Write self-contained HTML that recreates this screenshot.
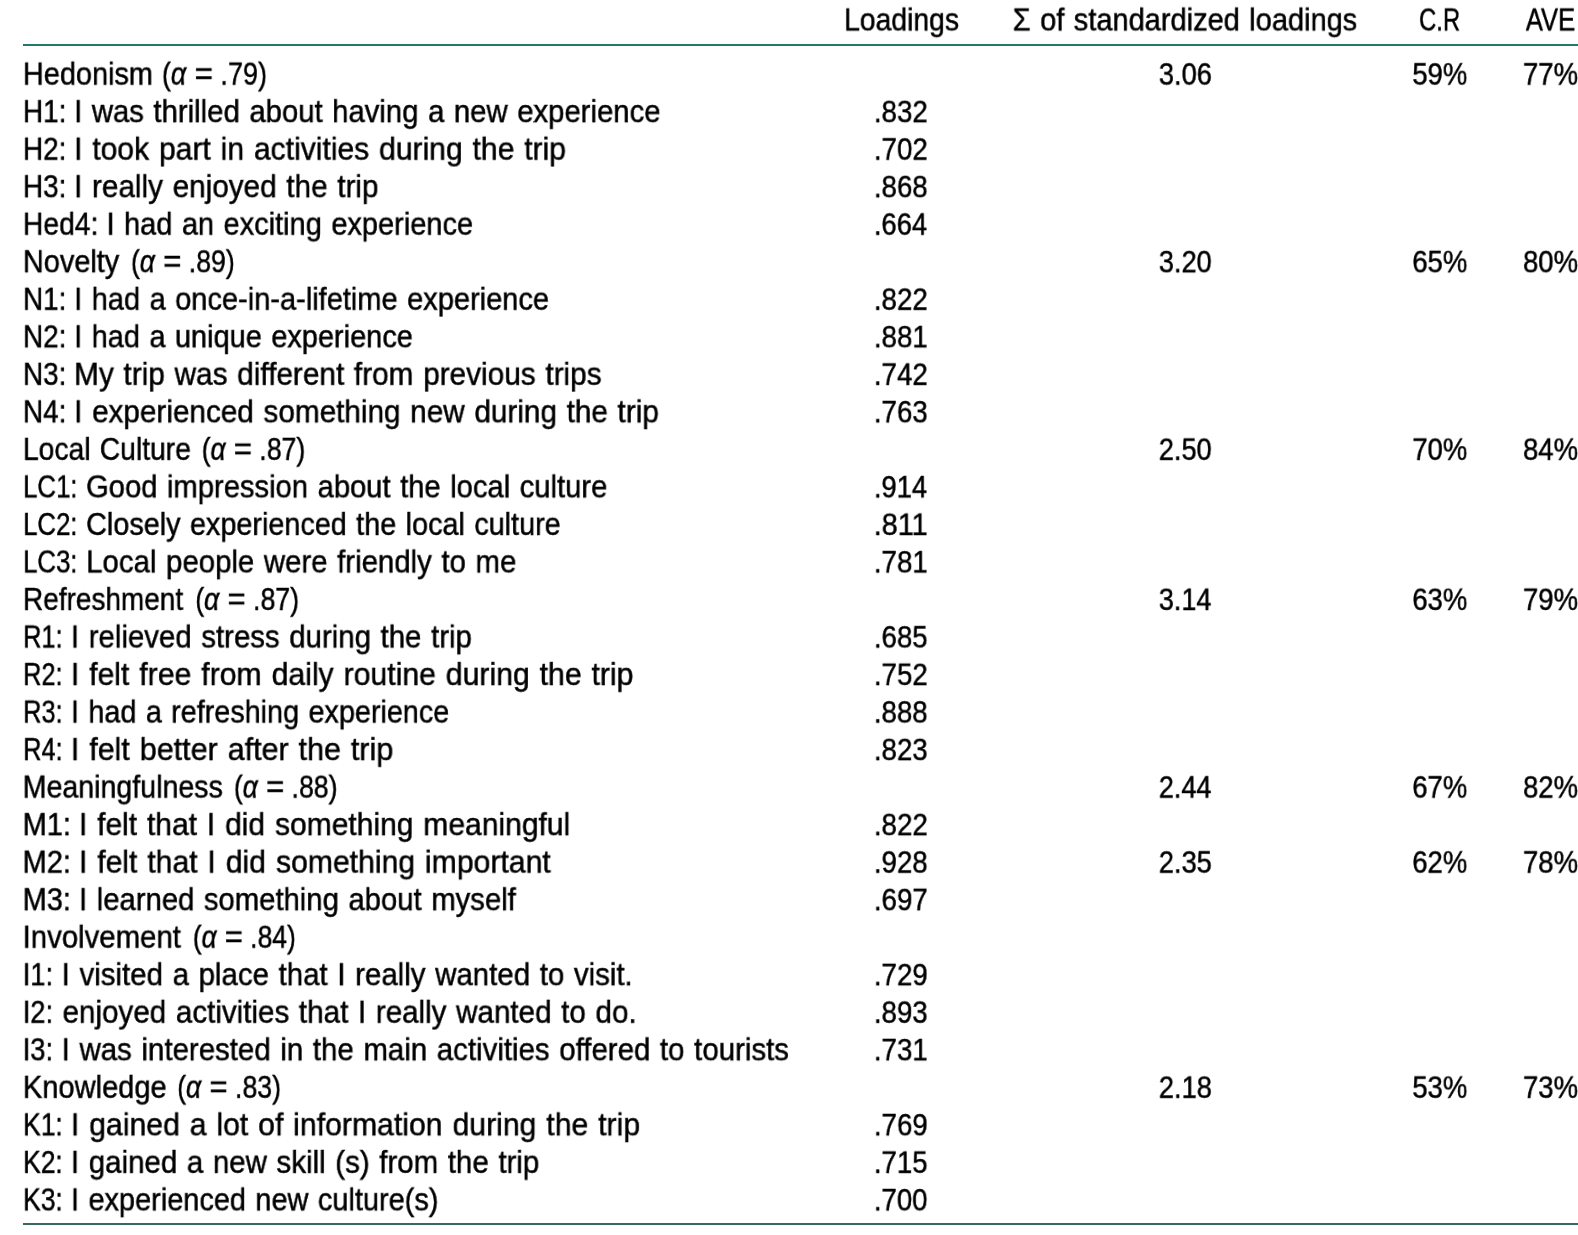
<!DOCTYPE html>
<html lang="en"><head><meta charset="utf-8"><title>Table</title>
<style>
html,body{margin:0;padding:0;background:#fff;}
body{width:1578px;height:1235px;position:relative;overflow:hidden;font-family:"Liberation Sans",sans-serif;font-size:32.6px;line-height:1;color:#000;}
.t{position:absolute;left:0;top:0;white-space:pre;transform-origin:0 0;will-change:transform;word-spacing:1.6px;-webkit-text-stroke:0.5px #000;}
.eq{display:inline-block;transform:scaleX(1.17);margin:0 -0.26px 0 1.34px;}
.r{position:absolute;left:23px;width:1555px;height:2px;}
</style></head><body>
<div class="r" style="top:44px;background:#24786a"></div>
<div class="r" style="top:1223px;background:#346a62"></div>
<div class="row head">
<span class="t" id="h1" style="transform:translate(844.14px,4.66px) scale(0.8687,0.957)">Loadings</span>
<span class="t" id="h2" style="transform:translate(1012.75px,4.66px) scale(0.8898,0.957)">Σ of standardized loadings</span>
<span class="t" id="h3" style="transform:translate(1419.07px,4.66px) scale(0.7323,0.957)">C.R</span>
<span class="t" id="h4" style="transform:translate(1525.80px,4.66px) scale(0.7874,0.957)">AVE</span>
</div>
<div class="row">
<span class="t" id="a0w" style="transform:translate(22.95px,58.79px) scale(0.8861,0.957)">Hedonism </span>
<span class="t" id="a0p" style="transform:translate(161.90px,58.79px) scale(0.8271,0.957)">(<i>α</i> <span class="eq">=</span> .79)</span>
<span class="t" id="s0" style="transform:translate(1158.84px,59.48px) scale(0.8374,0.932)">3.06</span>
<span class="t" id="c0" style="transform:translate(1412.36px,59.48px) scale(0.8422,0.932)">59%</span>
<span class="t" id="v0" style="transform:translate(1522.93px,59.48px) scale(0.8466,0.932)">77%</span>
</div>
<div class="row">
<span class="t" id="a1x" style="transform:translate(23.01px,96.32px) scale(0.8559,0.957)">H1: </span>
<span class="t" id="a1r" style="transform:translate(74.12px,96.32px) scale(0.8989,0.957)">I was thrilled about having a new experience</span>
<span class="t" id="l1" style="transform:translate(873.86px,97.00px) scale(0.8505,0.932)">.832</span>
</div>
<div class="row">
<span class="t" id="a2x" style="transform:translate(23.03px,133.85px) scale(0.8550,0.957)">H2: </span>
<span class="t" id="a2r" style="transform:translate(74.04px,133.85px) scale(0.9235,0.957)">I took part in activities during the trip</span>
<span class="t" id="l2" style="transform:translate(873.86px,134.53px) scale(0.8504,0.932)">.702</span>
</div>
<div class="row">
<span class="t" id="a3x" style="transform:translate(23.00px,171.37px) scale(0.8553,0.957)">H3: </span>
<span class="t" id="a3r" style="transform:translate(74.05px,171.37px) scale(0.9110,0.957)">I really enjoyed the trip</span>
<span class="t" id="l3" style="transform:translate(873.85px,172.06px) scale(0.8491,0.932)">.868</span>
</div>
<div class="row">
<span class="t" id="a4x" style="transform:translate(22.98px,208.90px) scale(0.8664,0.957)">Hed4: </span>
<span class="t" id="a4r" style="transform:translate(106.51px,208.90px) scale(0.8895,0.957)">I had an exciting experience</span>
<span class="t" id="l4" style="transform:translate(873.87px,209.58px) scale(0.8391,0.932)">.664</span>
</div>
<div class="row">
<span class="t" id="a5w" style="transform:translate(22.93px,246.42px) scale(0.8866,0.957)">Novelty </span>
<span class="t" id="a5p" style="transform:translate(130.95px,246.42px) scale(0.8166,0.957)">(<i>α</i> <span class="eq">=</span> .89)</span>
<span class="t" id="s5" style="transform:translate(1158.83px,247.11px) scale(0.8340,0.932)">3.20</span>
<span class="t" id="c5" style="transform:translate(1412.33px,247.11px) scale(0.8434,0.932)">65%</span>
<span class="t" id="v5" style="transform:translate(1523.02px,247.11px) scale(0.8448,0.932)">80%</span>
</div>
<div class="row">
<span class="t" id="a6x" style="transform:translate(23.02px,283.95px) scale(0.8549,0.957)">N1: </span>
<span class="t" id="a6r" style="transform:translate(74.12px,283.95px) scale(0.8904,0.957)">I had a once-in-a-lifetime experience</span>
<span class="t" id="l6" style="transform:translate(873.80px,284.63px) scale(0.8516,0.932)">.822</span>
</div>
<div class="row">
<span class="t" id="a7x" style="transform:translate(23.02px,321.48px) scale(0.8557,0.957)">N2: </span>
<span class="t" id="a7r" style="transform:translate(74.14px,321.48px) scale(0.8882,0.957)">I had a unique experience</span>
<span class="t" id="l7" style="transform:translate(873.86px,322.16px) scale(0.8500,0.932)">.881</span>
</div>
<div class="row">
<span class="t" id="a8x" style="transform:translate(23.02px,359.00px) scale(0.8551,0.957)">N3: </span>
<span class="t" id="a8r" style="transform:translate(74.06px,359.00px) scale(0.9135,0.957)">My trip was different from previous trips</span>
<span class="t" id="l8" style="transform:translate(873.80px,359.69px) scale(0.8516,0.932)">.742</span>
</div>
<div class="row">
<span class="t" id="a9x" style="transform:translate(22.98px,396.53px) scale(0.8562,0.957)">N4: </span>
<span class="t" id="a9r" style="transform:translate(74.08px,396.53px) scale(0.9114,0.957)">I experienced something new during the trip</span>
<span class="t" id="l9" style="transform:translate(873.83px,397.21px) scale(0.8500,0.932)">.763</span>
</div>
<div class="row">
<span class="t" id="a10w" style="transform:translate(22.98px,434.05px) scale(0.8673,0.957)">Local Culture </span>
<span class="t" id="a10p" style="transform:translate(201.67px,434.05px) scale(0.8151,0.957)">(<i>α</i> <span class="eq">=</span> .87)</span>
<span class="t" id="s10" style="transform:translate(1158.81px,434.74px) scale(0.8341,0.932)">2.50</span>
<span class="t" id="c10" style="transform:translate(1412.35px,434.74px) scale(0.8428,0.932)">70%</span>
<span class="t" id="v10" style="transform:translate(1523.01px,434.74px) scale(0.8451,0.932)">84%</span>
</div>
<div class="row">
<span class="t" id="a11x" style="transform:translate(23.12px,471.58px) scale(0.7904,0.957)">LC1: </span>
<span class="t" id="a11r" style="transform:translate(86.10px,471.58px) scale(0.8954,0.957)">Good impression about the local culture</span>
<span class="t" id="l11" style="transform:translate(873.88px,472.26px) scale(0.8388,0.932)">.914</span>
</div>
<div class="row">
<span class="t" id="a12x" style="transform:translate(23.14px,509.11px) scale(0.7897,0.957)">LC2: </span>
<span class="t" id="a12r" style="transform:translate(86.11px,509.11px) scale(0.8838,0.957)">Closely experienced the local culture</span>
<span class="t" id="l12" style="transform:translate(873.71px,509.79px) scale(0.8852,0.932)">.811</span>
</div>
<div class="row">
<span class="t" id="a13x" style="transform:translate(23.14px,546.63px) scale(0.7895,0.957)">LC3: </span>
<span class="t" id="a13r" style="transform:translate(86.21px,546.63px) scale(0.9016,0.957)">Local people were friendly to me</span>
<span class="t" id="l13" style="transform:translate(873.80px,547.32px) scale(0.8514,0.932)">.781</span>
</div>
<div class="row">
<span class="t" id="a14w" style="transform:translate(23.02px,584.16px) scale(0.8583,0.957)">Refreshment </span>
<span class="t" id="a14p" style="transform:translate(195.27px,584.16px) scale(0.8167,0.957)">(<i>α</i> <span class="eq">=</span> .87)</span>
<span class="t" id="s14" style="transform:translate(1158.83px,584.84px) scale(0.8298,0.932)">3.14</span>
<span class="t" id="c14" style="transform:translate(1412.35px,584.84px) scale(0.8430,0.932)">63%</span>
<span class="t" id="v14" style="transform:translate(1522.96px,584.84px) scale(0.8457,0.932)">79%</span>
</div>
<div class="row">
<span class="t" id="a15x" style="transform:translate(23.17px,621.68px) scale(0.7781,0.957)">R1: </span>
<span class="t" id="a15r" style="transform:translate(70.90px,621.68px) scale(0.9023,0.957)">I relieved stress during the trip</span>
<span class="t" id="l15" style="transform:translate(873.87px,622.37px) scale(0.8476,0.932)">.685</span>
</div>
<div class="row">
<span class="t" id="a16x" style="transform:translate(23.17px,659.21px) scale(0.7776,0.957)">R2: </span>
<span class="t" id="a16r" style="transform:translate(70.87px,659.21px) scale(0.9273,0.957)">I felt free from daily routine during the trip</span>
<span class="t" id="l16" style="transform:translate(873.86px,659.89px) scale(0.8500,0.932)">.752</span>
</div>
<div class="row">
<span class="t" id="a17x" style="transform:translate(23.17px,696.74px) scale(0.7783,0.957)">R3: </span>
<span class="t" id="a17r" style="transform:translate(70.98px,696.74px) scale(0.8830,0.957)">I had a refreshing experience</span>
<span class="t" id="l17" style="transform:translate(873.84px,697.42px) scale(0.8483,0.932)">.888</span>
</div>
<div class="row">
<span class="t" id="a18x" style="transform:translate(23.17px,734.26px) scale(0.7785,0.957)">R4: </span>
<span class="t" id="a18r" style="transform:translate(70.80px,734.26px) scale(0.9351,0.957)">I felt better after the trip</span>
<span class="t" id="l18" style="transform:translate(873.85px,734.95px) scale(0.8494,0.932)">.823</span>
</div>
<div class="row">
<span class="t" id="a19w" style="transform:translate(22.71px,771.79px) scale(0.8768,0.957)">Meaningfulness </span>
<span class="t" id="a19p" style="transform:translate(233.89px,771.79px) scale(0.8150,0.957)">(<i>α</i> <span class="eq">=</span> .88)</span>
<span class="t" id="s19" style="transform:translate(1158.82px,772.47px) scale(0.8303,0.932)">2.44</span>
<span class="t" id="c19" style="transform:translate(1412.31px,772.47px) scale(0.8430,0.932)">67%</span>
<span class="t" id="v19" style="transform:translate(1523.03px,772.47px) scale(0.8445,0.932)">82%</span>
</div>
<div class="row">
<span class="t" id="a20x" style="transform:translate(22.69px,809.31px) scale(0.8864,0.957)">M1: </span>
<span class="t" id="a20r" style="transform:translate(78.96px,809.31px) scale(0.9218,0.957)">I felt that I did something meaningful</span>
<span class="t" id="l20" style="transform:translate(873.85px,810.00px) scale(0.8511,0.932)">.822</span>
</div>
<div class="row">
<span class="t" id="a21x" style="transform:translate(22.66px,846.84px) scale(0.8869,0.957)">M2: </span>
<span class="t" id="a21r" style="transform:translate(78.95px,846.84px) scale(0.9263,0.957)">I felt that I did something important</span>
<span class="t" id="l21" style="transform:translate(873.85px,847.52px) scale(0.8491,0.932)">.928</span>
<span class="t" id="s21" style="transform:translate(1158.78px,847.52px) scale(0.8371,0.932)">2.35</span>
<span class="t" id="c21" style="transform:translate(1412.31px,847.52px) scale(0.8430,0.932)">62%</span>
<span class="t" id="v21" style="transform:translate(1522.92px,847.52px) scale(0.8467,0.932)">78%</span>
</div>
<div class="row">
<span class="t" id="a22x" style="transform:translate(22.69px,884.37px) scale(0.8862,0.957)">M3: </span>
<span class="t" id="a22r" style="transform:translate(79.02px,884.37px) scale(0.8981,0.957)">I learned something about myself</span>
<span class="t" id="l22" style="transform:translate(873.85px,885.05px) scale(0.8509,0.932)">.697</span>
</div>
<div class="row">
<span class="t" id="a23w" style="transform:translate(22.60px,921.89px) scale(0.9015,0.957)">Involvement </span>
<span class="t" id="a23p" style="transform:translate(192.82px,921.89px) scale(0.8105,0.957)">(<i>α</i> <span class="eq">=</span> .84)</span>
</div>
<div class="row">
<span class="t" id="a24x" style="transform:translate(22.74px,959.42px) scale(0.8354,0.957)">I1: </span>
<span class="t" id="a24r" style="transform:translate(61.67px,959.42px) scale(0.9038,0.957)">I visited a place that I really wanted to visit.</span>
<span class="t" id="l24" style="transform:translate(873.80px,960.10px) scale(0.8513,0.932)">.729</span>
</div>
<div class="row">
<span class="t" id="a25x" style="transform:translate(22.79px,996.94px) scale(0.8345,0.957)">I2: </span>
<span class="t" id="a25r" style="transform:translate(62.54px,996.94px) scale(0.9079,0.957)">enjoyed activities that I really wanted to do.</span>
<span class="t" id="l25" style="transform:translate(873.85px,997.63px) scale(0.8492,0.932)">.893</span>
</div>
<div class="row">
<span class="t" id="a26x" style="transform:translate(22.74px,1034.47px) scale(0.8351,0.957)">I3: </span>
<span class="t" id="a26r" style="transform:translate(61.66px,1034.47px) scale(0.9034,0.957)">I was interested in the main activities offered to tourists</span>
<span class="t" id="l26" style="transform:translate(873.80px,1035.15px) scale(0.8512,0.932)">.731</span>
</div>
<div class="row">
<span class="t" id="a27w" style="transform:translate(22.90px,1072.00px) scale(0.8922,0.957)">Knowledge </span>
<span class="t" id="a27p" style="transform:translate(177.18px,1072.00px) scale(0.8170,0.957)">(<i>α</i> <span class="eq">=</span> .83)</span>
<span class="t" id="s27" style="transform:translate(1158.80px,1072.68px) scale(0.8380,0.932)">2.18</span>
<span class="t" id="c27" style="transform:translate(1412.34px,1072.68px) scale(0.8434,0.932)">53%</span>
<span class="t" id="v27" style="transform:translate(1522.97px,1072.68px) scale(0.8456,0.932)">73%</span>
</div>
<div class="row">
<span class="t" id="a28x" style="transform:translate(23.10px,1109.52px) scale(0.8132,0.957)">K1: </span>
<span class="t" id="a28r" style="transform:translate(70.87px,1109.52px) scale(0.9270,0.957)">I gained a lot of information during the trip</span>
<span class="t" id="l28" style="transform:translate(873.86px,1110.21px) scale(0.8501,0.932)">.769</span>
</div>
<div class="row">
<span class="t" id="a29x" style="transform:translate(23.10px,1147.05px) scale(0.8129,0.957)">K2: </span>
<span class="t" id="a29r" style="transform:translate(70.90px,1147.05px) scale(0.9043,0.957)">I gained a new skill (s) from the trip</span>
<span class="t" id="l29" style="transform:translate(873.83px,1147.73px) scale(0.8487,0.932)">.715</span>
</div>
<div class="row">
<span class="t" id="a30x" style="transform:translate(23.07px,1184.57px) scale(0.8144,0.957)">K3: </span>
<span class="t" id="a30r" style="transform:translate(70.97px,1184.57px) scale(0.8874,0.957)">I experienced new culture(s)</span>
<span class="t" id="l30" style="transform:translate(873.82px,1185.26px) scale(0.8464,0.932)">.700</span>
</div>
</body></html>
